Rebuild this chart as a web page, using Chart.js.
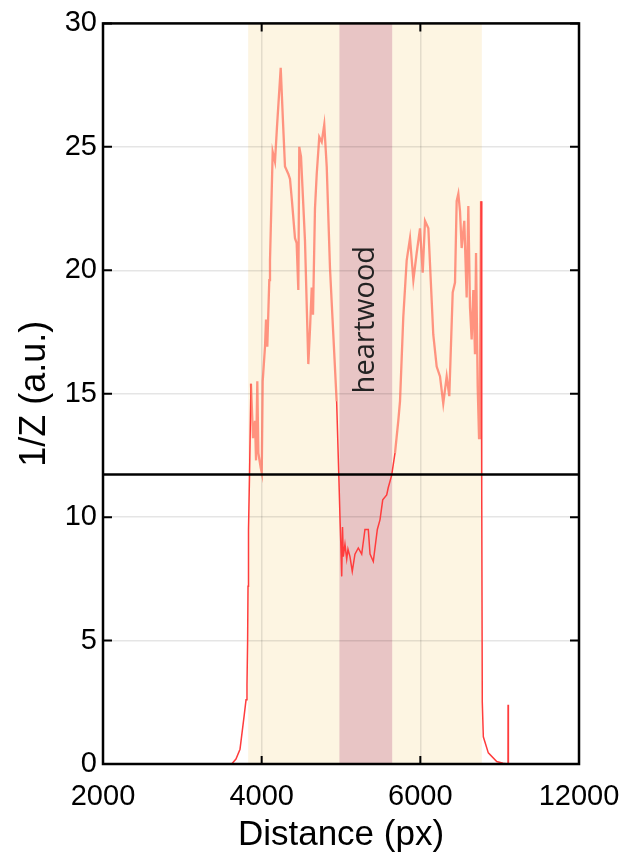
<!DOCTYPE html>
<html>
<head>
<meta charset="utf-8">
<script src="https://cdn.jsdelivr.net/npm/chart.js@4.4.1/dist/chart.umd.min.js"></script>
<style>
  html, body { margin: 0; padding: 0; background: #fff; }
</style>
</head>
<body>
<canvas id="chart" width="623" height="858"></canvas>
<script>
// scan data
const distance = [
  2000, 3622, 3676, 3727, 3777, 3803, 3815, 3823, 3828, 3834,
  3847, 3865, 3891, 3916, 3929, 3945, 3958, 3988, 4001, 4013,
  4042, 4055, 4071, 4096, 4105, 4139, 4168, 4193, 4240, 4269,
  4294, 4336, 4357, 4382, 4420, 4441, 4462, 4474, 4496, 4546,
  4588, 4609, 4631, 4647, 4672, 4694, 4726, 4757, 4789, 4820,
  4861, 4903, 4945, 4974, 4987, 4997, 5009, 5019, 5029, 5050,
  5072, 5088, 5113, 5142, 5176, 5218, 5261, 5302, 5344, 5366,
  5407, 5458, 5492, 5526, 5576, 5596, 5639, 5681, 5722, 5744,
  5785, 5828, 5870, 5912, 5954, 5996, 6030, 6059, 6101, 6163,
  6206, 6248, 6289, 6332, 6365, 6408, 6437, 6458, 6479, 6500,
  6521, 6554, 6584, 6605, 6626, 6647, 6668, 6689, 6702, 6723,
  6740, 6752, 6765, 6774, 6781, 6794, 6857, 6963, 7042, 7105,
  7106, 7110, 7483
];
const invZ = [
  0, 0, 0.2, 0.6, 1.9, 2.6, 3.2, 5, 7.2, 9.5,
  11.7, 15.4, 13.2, 13.9, 12.3, 15.5, 12.6, 12.0, 11.8, 15.5,
  16.9, 18.0, 16.9, 19.6, 20.4, 24.8, 24.4, 25.8, 28.2, 26.0,
  24.2, 23.9, 23.7, 22.8, 21.3, 21.1, 19.2, 25.0, 24.6, 21.2,
  16.2, 17.6, 19.3, 18.2, 22.5, 23.9, 25.4, 25.2, 25.9, 24.2,
  20.1, 17.4, 14.7, 11.5, 10.0, 9.0, 7.6, 9.6, 8.4, 8.9,
  8.3, 8.7, 8.4, 7.8, 8.5, 8.75, 8.5, 9.5, 9.5, 8.5,
  8.2, 9.5, 9.9, 10.7, 10.9, 11.2, 11.7, 12.6, 13.9, 14.7,
  18.1, 20.4, 21.3, 19.6, 20.7, 21.7, 19.9, 22.0, 21.7, 17.4,
  16.1, 15.7, 14.6, 15.7, 14.9, 19.1, 19.5, 22.8, 23.1, 22.4,
  20.9, 22.0, 18.9, 22.6, 18.5, 17.2, 19.2, 16.6, 20.7, 15.3,
  13.2, 15.5, 22.8, 11, 2.5, 1.1, 0.45, 0.1, 0.03, 0,
  2.4, 0, 0
];

const xTickLabels = ["2000", "4000", "6000", "12000"];
const sapwoodBand = [3830, 6775];
const heartwoodBand = [4980, 5645];
const breakValue = 11.73;

const upperColor = "rgba(255, 105, 85, 0.7)";
const lowerColor = "rgb(255, 60, 60)";

const bandsPlugin = {
  id: "bands",
  beforeDraw(chart) {
    const { ctx, chartArea, scales } = chart;
    const h = chartArea.bottom - chartArea.top;
    ctx.save();
    ctx.fillStyle = "rgb(253, 245, 226)";
    const s0 = scales.x.getPixelForValue(sapwoodBand[0]);
    const s1 = scales.x.getPixelForValue(sapwoodBand[1]);
    ctx.fillRect(s0, chartArea.top, s1 - s0, h);
    ctx.fillStyle = "rgb(232, 197, 197)";
    const h0 = scales.x.getPixelForValue(heartwoodBand[0]);
    const h1 = scales.x.getPixelForValue(heartwoodBand[1]);
    ctx.fillRect(h0, chartArea.top, h1 - h0, h);
    ctx.restore();
  }
};

const framePlugin = {
  id: "frame",
  afterDatasetsDraw(chart) {
    const { ctx, chartArea, scales } = chart;
    const { left, right, top, bottom } = chartArea;
    ctx.save();

    // heartwood label
    const cx = (scales.x.getPixelForValue(heartwoodBand[0]) + scales.x.getPixelForValue(heartwoodBand[1])) / 2;
    ctx.translate(cx, scales.y.getPixelForValue(18));
    ctx.rotate(-Math.PI / 2);
    ctx.fillStyle = "#222";
    ctx.font = "29px 'Open Sans'";
    ctx.textAlign = "center";
    ctx.textBaseline = "middle";
    ctx.fillText("heartwood", 0, 0);
    ctx.setTransform(1, 0, 0, 1, 0, 0);

    ctx.strokeStyle = "#000";
    ctx.lineWidth = 2.5;

    // break line
    const by = scales.y.getPixelForValue(breakValue);
    ctx.beginPath();
    ctx.moveTo(left, by);
    ctx.lineTo(right, by);
    ctx.stroke();

    // inward ticks
    ctx.lineWidth = 2;
    ctx.beginPath();
    scales.y.ticks.forEach((t) => {
      const y = scales.y.getPixelForValue(t.value);
      ctx.moveTo(left, y); ctx.lineTo(left + 9, y);
      ctx.moveTo(right, y); ctx.lineTo(right - 9, y);
    });
    scales.x.ticks.forEach((t) => {
      const x = scales.x.getPixelForValue(t.value);
      ctx.moveTo(x, bottom); ctx.lineTo(x, bottom - 8);
      ctx.moveTo(x, top); ctx.lineTo(x, top + 8);
    });
    ctx.stroke();

    ctx.lineWidth = 2.5;
    ctx.strokeRect(left, top, right - left, bottom - top);
    ctx.restore();
  }
};

const points = distance.map((d, i) => ({ x: d, y: invZ[i] }));

new Chart(document.getElementById("chart"), {
  type: "line",
  data: {
    datasets: [
      {
        data: points,
        borderColor: lowerColor,
        borderWidth: 1.5,
        pointRadius: 0,
        tension: 0,
        segment: {
          borderColor: (c) => (c.p0.parsed.y > breakValue && c.p1.parsed.y > breakValue ? upperColor : lowerColor),
          borderWidth: (c) => (c.p0.parsed.y > breakValue && c.p1.parsed.y > breakValue ? 2.3 : 1.5),
        },
      },
    ],
  },
  options: {
    responsive: false,
    animation: false,
    layout: { padding: { top: 23, right: 44, left: 13, bottom: 0 } },
    plugins: { legend: { display: false }, tooltip: { enabled: false } },
    scales: {
      x: {
        type: "linear",
        min: 2000,
        max: 8000,
        afterFit: (s) => {
          s.height = 94;
          s.paddingLeft = 0;
          s.paddingRight = 0;
        },
        ticks: {
          stepSize: 2000,
          color: "#000",
          font: { family: "'Liberation Sans', Arial", size: 29 },
          padding: 16,
          maxRotation: 0,
          callback: (v, i) => xTickLabels[i],
        },
        grid: { color: "rgba(0,0,0,0.1)", lineWidth: 1.5, drawTicks: false },
        border: { display: false },
        title: {
          display: true,
          text: "Distance (px)",
          color: "#000",
          font: { family: "'Liberation Sans', Arial", size: 35 },
          padding: { top: 0, bottom: 2 },
        },
      },
      y: {
        min: 0,
        max: 30,
        afterFit: (s) => { s.width = 90; },
        ticks: {
          stepSize: 5,
          color: "#000",
          font: { family: "'Liberation Sans', Arial", size: 29 },
          padding: 6,
        },
        grid: { color: "rgba(0,0,0,0.1)", lineWidth: 1.5, drawTicks: false },
        border: { display: false },
        title: {
          display: true,
          text: "1/Z (a.u.)",
          color: "#000",
          font: { family: "'Liberation Sans', Arial", size: 36 },
          padding: { top: 0, bottom: 0 },
        },
      },
    },
  },
  plugins: [bandsPlugin, framePlugin],
});
</script>
</body>
</html>
